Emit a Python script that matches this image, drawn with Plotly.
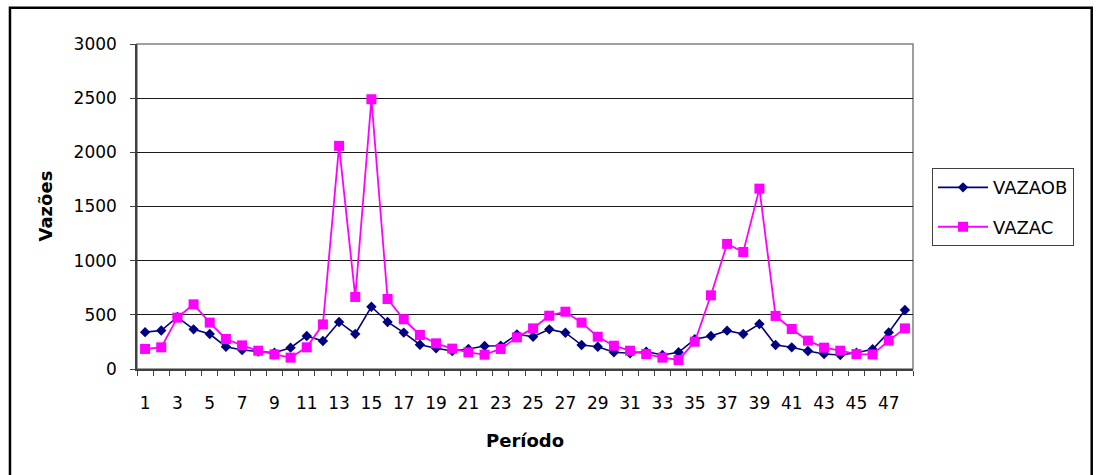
import plotly.graph_objects as go

# Período (1..48) and the two flow series
periodo = list(range(1, 49))
vazaob = [340, 355, 480, 366, 323, 206, 175, 160, 150, 197,
          305, 258, 434, 323, 575, 434, 336, 224, 191, 166,
          185, 212, 215, 320, 298, 366, 335, 221, 206, 154,
          145, 160, 129, 154, 274, 305, 354, 323, 415, 221,
          200, 166, 138, 129, 150, 182, 338, 545]
vazac = [185, 200, 474, 597, 428, 277, 218, 169, 135, 105,
         200, 412, 2060, 665, 2490, 646, 459, 314, 237, 188,
         154, 132, 185, 292, 375, 492, 529, 428, 298, 215,
         169, 138, 105, 83, 252, 680, 1155, 1080, 1665, 490,
         369, 262, 197, 169, 138, 135, 262, 375]
x_labels = [str(p) for p in periodo if p % 2 == 1]
y_ticks = [0, 500, 1000, 1500, 2000, 2500, 3000]

FONT = "DejaVu Sans"

fig = go.Figure()
fig.add_trace(go.Scatter(
    x=periodo, y=vazaob, name="VAZAOB", mode="lines+markers",
    line=dict(color="#000080", width=1.6),
    marker=dict(symbol="diamond", size=8, color="#000080"),
    legendgroup="a",
))
fig.add_trace(go.Scatter(
    x=periodo, y=vazac, name="VAZAC", mode="lines+markers",
    line=dict(color="#FF00FF", width=1.8),
    marker=dict(symbol="square", size=10, color="#FF00FF"),
    legendgroup="b",
))

fig.update_layout(
    width=1097, height=475,
    margin=dict(l=137, r=184, t=44, b=106),
    paper_bgcolor="white", plot_bgcolor="white",
    font=dict(family=FONT, size=17, color="black"),
    showlegend=True,
    legend=dict(
        x=1.0245, y=0.618, xanchor="left", yanchor="top",
        bordercolor="#404040", borderwidth=1,
        font=dict(family=FONT, size=18, color="black"),
        traceorder="grouped", tracegroupgap=13,
        entrywidth=133, itemwidth=50,
    ),
    xaxis=dict(
        range=[0.5, 48.5],
        tickmode="array",
        tickvals=[p for p in periodo if p % 2 == 1],
        ticktext=x_labels,
        ticks="",
        ticklabelstandoff=18,
        tickfont=dict(family=FONT, size=17),
        showgrid=False, zeroline=False,
        showline=True, linecolor="#404040", linewidth=1.5,
        minor=dict(
            tickmode="array",
            tickvals=[p + 0.5 for p in range(0, 49)],
            ticks="outside", ticklen=5, tickcolor="#404040", tickwidth=1,
            showgrid=False,
        ),
    ),
    yaxis=dict(
        range=[0, 3000],
        tickmode="array", tickvals=y_ticks,
        ticks="outside", ticklen=5, tickcolor="#404040",
        ticklabelstandoff=10,
        tickfont=dict(family=FONT, size=17),
        showgrid=True, gridcolor="#1a1a1a", gridwidth=1,
        zeroline=False,
        showline=True, linecolor="#404040", linewidth=1.5,
    ),
    shapes=[
        # plot-area frame
        dict(type="rect", xref="paper", yref="paper", x0=0, x1=1, y0=0, y1=1,
             line=dict(color="#808080", width=1.5), layer="below"),
        # outer chart border
        dict(type="rect", xref="paper", yref="paper",
             x0=-0.1637, x1=1.2303, y0=-0.35, y1=1.1115,
             line=dict(color="black", width=2.5), layer="above"),
    ],
    annotations=[
        dict(text="<b>Vazões</b>", xref="paper", yref="paper",
             x=(45 - 137) / 776, y=0.5, showarrow=False, textangle=-90,
             font=dict(family=FONT, size=18), xanchor="center", yanchor="middle"),
        dict(text="<b>Período</b>", xref="paper", yref="paper",
             x=0.5, y=(369 - 440) / 325, showarrow=False,
             font=dict(family=FONT, size=18), xanchor="center", yanchor="middle"),
    ],
)

fig.write_html("out.html")
